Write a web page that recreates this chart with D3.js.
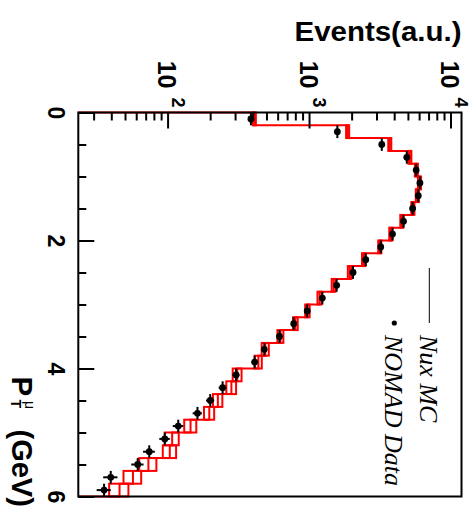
<!DOCTYPE html>
<html>
<head>
<meta charset="utf-8">
<script src="https://cdn.jsdelivr.net/npm/d3@7"></script>
<style>
  body { margin: 0; background: #fff; }
  svg { display: block; }
</style>
</head>
<body>
<svg id="chart"></svg>
<script>
// P_T bin centres (GeV), bins of 0.2 GeV from 0 to 6
const ptBins = [0.1, 0.3, 0.5, 0.7, 0.9, 1.1, 1.3, 1.5, 1.7, 1.9,
  2.1, 2.3, 2.5, 2.7, 2.9, 3.1, 3.3, 3.5, 3.7, 3.9,
  4.1, 4.3, 4.5, 4.7, 4.9, 5.1, 5.3, 5.5, 5.7, 5.9];
const binHalf = 0.1;

// Nux MC (red histogram + error boxes)
const mcValues = [404, 1845, 3664, 5080, 5650, 5945, 5737, 5335, 4456, 3726,
  3113, 2395, 1905, 1468, 1167, 959, 788, 618, 483, 431,
  306, 278, 223, 194, 143, 106, 102, 72, 56, 45];
const mcErrors = [10, 46, 90, 125, 140, 150, 145, 135, 110, 95,
  80, 65, 55, 45, 38, 35, 30, 30, 28, 25,
  22, 22, 17, 16, 14, 12, 11, 10, 8, 7];

// NOMAD data (black points)
const dataValues = [382, 1560, 3215, 4830, 5627, 5981, 5821, 5309, 4582, 3829,
  3162, 2476, 2014, 1542, 1222, 955, 767, 608, 475, 406,
  300, 241, 197, 160, 117, 94, 73, 60.5, 39, 35];
const dataErrors = [8, 30, 55, 80, 90, 95, 95, 90, 80, 70,
  60, 55, 45, 40, 35, 30, 28, 25, 22, 20,
  17, 15, 13, 12, 10, 8, 7, 6, 4.5, 4];

const xMajorTicks = [0, 2, 4, 6];
const xMinorTicks = [0.5, 1, 1.5, 2.5, 3, 3.5, 4.5, 5, 5.5];
const yMajorTicks = [100, 1000, 10000];
const yExponents = ["2", "3", "4"];
const yMinorTicks = [30, 40, 50, 60, 70, 80, 90, 200, 300, 400, 500, 600, 700, 800, 900,
  2000, 3000, 4000, 5000, 6000, 7000, 8000, 9000];

const W = 476, H = 510;
const svg = d3.select("#chart").attr("width", W).attr("height", H);
svg.append("rect").attr("width", W).attr("height", H).attr("fill", "#fff");

// the whole ROOT canvas is turned a quarter turn clockwise
const g = svg.append("g").attr("transform", "translate(" + W + ",0) rotate(90)");

const frame = { left: 112.5, right: 496.5, top: 14.5, bottom: 397.7 };

const x = d3.scaleLinear().domain([0, 6]).range([frame.left, frame.right]);
const y = d3.scaleLog().domain([23.0, 11770]).range([frame.bottom, frame.top]);

const red = "#ff0000";
const font = "'Liberation Sans', Arial, Helvetica, sans-serif";

// MC error boxes
g.selectAll("rect.mcbox")
  .data(ptBins)
  .enter()
  .append("rect")
  .attr("class", "mcbox")
  .attr("x", (d) => x(d - binHalf))
  .attr("width", (d) => x(d + binHalf) - x(d - binHalf))
  .attr("y", (d, i) => y(mcValues[i] + mcErrors[i]))
  .attr("height", (d, i) => y(mcValues[i] - mcErrors[i]) - y(mcValues[i] + mcErrors[i]))
  .attr("fill", "none")
  .attr("stroke", red)
  .attr("stroke-width", 2);

// MC step line
const stepPts = [[0, y.domain()[0]]];
ptBins.forEach((c, i) => {
  stepPts.push([c - binHalf, mcValues[i]]);
  stepPts.push([c + binHalf, mcValues[i]]);
});
stepPts.push([6, y.domain()[0]]);
g.append("path")
  .attr("d", d3.line().x((d) => x(d[0])).y((d) => y(d[1]))(stepPts))
  .attr("fill", "none")
  .attr("stroke", red)
  .attr("stroke-width", 2);

// data points
const pts = g.selectAll("g.pt")
  .data(ptBins)
  .enter()
  .append("g")
  .attr("class", "pt");
pts.append("line")
  .attr("x1", (d) => x(d - binHalf))
  .attr("x2", (d) => x(d + binHalf))
  .attr("y1", (d, i) => y(dataValues[i]))
  .attr("y2", (d, i) => y(dataValues[i]))
  .attr("stroke", "#000")
  .attr("stroke-width", 2);
pts.append("line")
  .attr("x1", (d) => x(d))
  .attr("x2", (d) => x(d))
  .attr("y1", (d, i) => y(dataValues[i] + dataErrors[i]))
  .attr("y2", (d, i) => y(dataValues[i] - dataErrors[i]))
  .attr("stroke", "#000")
  .attr("stroke-width", 2);
pts.append("circle")
  .attr("cx", (d) => x(d))
  .attr("cy", (d, i) => y(dataValues[i]))
  .attr("r", 3.4)
  .attr("fill", "#000");

// axes: ticks point inwards
const xAxisMajor = d3.axisBottom(x).tickValues(xMajorTicks).tickSizeInner(-16).tickSizeOuter(0).tickPadding(30).tickFormat(d3.format("d"));
const xAxisMinor = d3.axisBottom(x).tickValues(xMinorTicks).tickSizeInner(-8).tickSizeOuter(0).tickFormat("");
const yAxisMajor = d3.axisLeft(y).tickValues(yMajorTicks).tickSizeInner(-16).tickSizeOuter(0).tickFormat("");
const yAxisMinor = d3.axisLeft(y).tickValues(yMinorTicks).tickSizeInner(-8).tickSizeOuter(0).tickFormat("");

[xAxisMajor, xAxisMinor].forEach((ax) => {
  g.append("g").attr("transform", "translate(0," + frame.bottom + ")").call(ax);
});
[yAxisMajor, yAxisMinor].forEach((ax) => {
  g.append("g").attr("transform", "translate(" + frame.left + ",0)").call(ax);
});
g.selectAll(".domain").remove();
g.selectAll(".tick line").attr("stroke", "#000").attr("stroke-width", 2);
g.selectAll(".tick text")
  .attr("y", null)
  .attr("dy", null)
  .attr("transform", "translate(0,30.3)")
  .style("font-family", font)
  .style("font-weight", "bold")
  .style("font-size", "23px")
  .attr("fill", "#000");

// log axis labels 10^n
yMajorTicks.forEach((v, i) => {
  g.append("text")
    .attr("x", 88.5)
    .attr("y", y(v) + 10.2)
    .attr("text-anchor", "end")
    .style("font-family", font)
    .style("font-weight", "bold")
    .style("font-size", "25px")
    .text("10");
  g.append("text")
    .attr("x", 97.5)
    .attr("y", y(v) - 3)
    .style("font-family", font)
    .style("font-weight", "bold")
    .style("font-size", "18px")
    .text(yExponents[i]);
});

// frame
g.append("rect")
  .attr("x", frame.left)
  .attr("y", frame.top)
  .attr("width", frame.right - frame.left)
  .attr("height", frame.bottom - frame.top)
  .attr("fill", "none")
  .attr("stroke", "#000")
  .attr("stroke-width", 2);

// axis titles
g.append("text")
  .attr("transform", "translate(40.5," + frame.top + ") rotate(-90)")
  .attr("text-anchor", "end")
  .style("font-family", font)
  .style("font-weight", "bold")
  .style("font-size", "28px")
  .attr("textLength", 167)
  .attr("lengthAdjust", "spacingAndGlyphs")
  .text("Events(a.u.)");

const xt = g.append("g").style("font-family", font).style("font-weight", "bold");
xt.append("text").attr("x", 376.5).attr("y", 464.3).style("font-size", "29.5px").text("P");
xt.append("text").attr("x", 399.5).attr("y", 465).style("font-size", "14px").text("T");
xt.append("text").attr("x", 401).attr("y", 451).style("font-size", "14px").style("font-weight", "normal").text("\u03bc");
xt.append("text").attr("x", 429.5).attr("y", 464.3).style("font-size", "29px").text("(GeV)");

// legend
const serif = "'Liberation Serif', 'Times New Roman', serif";
g.append("line")
  .attr("x1", 268).attr("x2", 323)
  .attr("y1", 46.7).attr("y2", 46.7)
  .attr("stroke", "#000").attr("stroke-width", 1);
g.append("circle").attr("cx", 323).attr("cy", 81.7).attr("r", 2.6).attr("fill", "#000");
g.append("text")
  .attr("x", 335).attr("y", 56)
  .style("font-family", serif).style("font-style", "italic").style("font-size", "26px")
  .text("Nux MC");
g.append("text")
  .attr("x", 335).attr("y", 91)
  .style("font-family", serif).style("font-style", "italic").style("font-size", "26px")
  .text("NOMAD Data");
</script>
</body>
</html>
